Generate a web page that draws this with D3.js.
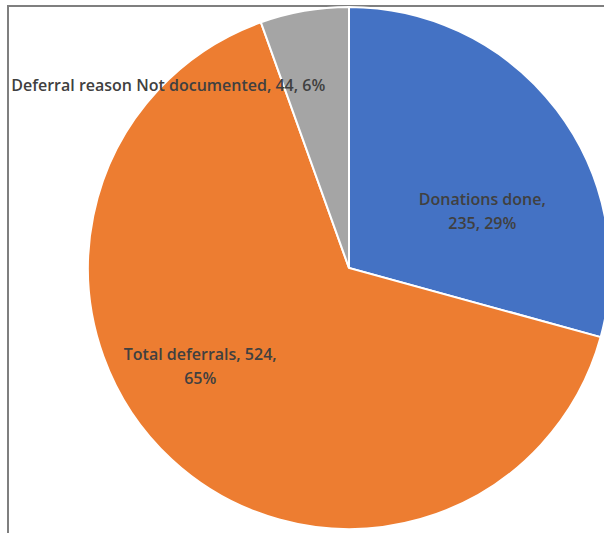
<!DOCTYPE html>
<head>
<meta charset="utf-8">
<script src="https://d3js.org/d3.v7.min.js"></script>
<style>
  body { margin: 0; background: #fff; }
</style>
</head>
<body>
<div id="datavis"></div>
<script type="text/javascript">
    // data
    var categories = ["Donations done", "Total deferrals", "Deferral reason Not documented"];
    var values = [235, 524, 44];
    var percents = ["29%", "65%", "6%"];
    var colors = ["#4472C4", "#ED7D31", "#A5A5A5"];

    var width = 604, height = 533;
    var cx = 349, cy = 268, radius = 261;

    var svg = d3.select("#datavis")
                .append("svg")
                .attr("width", width)
                .attr("height", height);

    // frame lines (top and left, the rest is cropped)
    svg.append("line").attr("x1", 7).attr("x2", width).attr("y1", 6).attr("y2", 6)
       .attr("stroke", "#7f7f7f").attr("stroke-width", 2);
    svg.append("line").attr("x1", 8).attr("x2", 8).attr("y1", 5).attr("y2", height)
       .attr("stroke", "#7f7f7f").attr("stroke-width", 2);

    var g = svg.append("g")
               .attr("transform", "translate(" + cx + "," + cy + ")");

    var pie = d3.pie().sort(null).value(function(d) { return d; });
    var arcs = pie(values);
    var arc = d3.arc().innerRadius(0).outerRadius(radius);

    g.selectAll("path")
     .data(arcs)
     .enter()
     .append("path")
     .attr("d", arc)
     .attr("fill", function(d, i) { return colors[i]; })
     .attr("stroke", "#fff")
     .attr("stroke-width", 2);

    // label lines, placed in polar coords (degrees clockwise from top, px from centre)
    var labelPos = [[66.8, 145], [236.7, 178], [315.3, 257]];
    var labelLines = [
      [categories[0] + ",", values[0] + ", " + percents[0]],
      [categories[1] + ", " + values[1] + ",", percents[1]],
      [categories[2] + ", " + values[2] + ", " + percents[2]]
    ];

    labelLines.forEach(function(lines, i) {
      var a = labelPos[i][0] * Math.PI / 180, r = labelPos[i][1];
      var x = r * Math.sin(a), y = -r * Math.cos(a);
      var t = g.append("text")
               .attr("x", x)
               .attr("y", y - (lines.length - 1) * 12)
               .attr("text-anchor", "middle")
               .attr("dominant-baseline", "central")
               .attr("fill", "#404040")
               .style("font-family", "'Open Sans', sans-serif")
               .style("font-size", "16px")
               .style("font-weight", 600);
      lines.forEach(function(l, j) {
        t.append("tspan").attr("x", x).attr("dy", j === 0 ? 0 : 24).text(l);
      });
    });
</script>
</body>
